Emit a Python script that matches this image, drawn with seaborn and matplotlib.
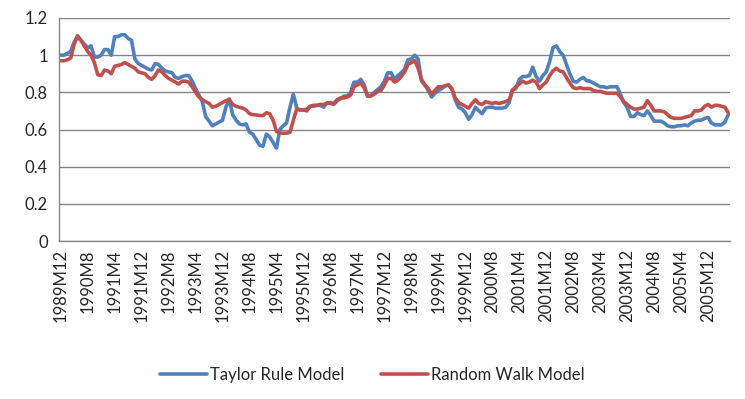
# Grafico de los modelos Taylor Rule vs Random Walk
import matplotlib.pyplot as plt
import seaborn as sns
import pandas as pd

# Meses desde 1989M12 (199 observaciones)
meses = []
anio, mes = 1989, 12
for _ in range(199):
    meses.append(f"{anio}M{mes}")
    mes += 1
    if mes > 12:
        anio, mes = anio + 1, 1

taylor = [
    1.00, 1.00, 1.01, 1.02, 1.07, 1.10, 1.08, 1.06, 1.04, 1.05,
    0.99, 0.99, 1.00, 1.03, 1.03, 1.00, 1.10, 1.10, 1.11, 1.11,
    1.09, 1.08, 0.98, 0.955, 0.945, 0.935, 0.925, 0.92, 0.955, 0.95,
    0.93, 0.915, 0.91, 0.905, 0.88, 0.875, 0.885, 0.89, 0.89, 0.86,
    0.82, 0.785, 0.75, 0.67, 0.645, 0.62, 0.63, 0.64, 0.65, 0.72,
    0.765, 0.68, 0.65, 0.63, 0.625, 0.63, 0.585, 0.575, 0.545, 0.515,
    0.51, 0.575, 0.56, 0.53, 0.50, 0.60, 0.62, 0.635, 0.72, 0.79,
    0.715, 0.705, 0.705, 0.71, 0.725, 0.725, 0.73, 0.73, 0.72, 0.745,
    0.74, 0.735, 0.755, 0.765, 0.78, 0.78, 0.80, 0.855, 0.855, 0.87,
    0.84, 0.78, 0.785, 0.80, 0.815, 0.83, 0.86, 0.905, 0.905, 0.87,
    0.89, 0.905, 0.925, 0.975, 0.98, 1.00, 0.98, 0.86, 0.84, 0.81,
    0.775, 0.795, 0.81, 0.82, 0.835, 0.84, 0.82, 0.76, 0.72, 0.71,
    0.69, 0.655, 0.68, 0.72, 0.70, 0.685, 0.715, 0.72, 0.72, 0.715,
    0.715, 0.715, 0.72, 0.745, 0.815, 0.82, 0.87, 0.885, 0.885, 0.89,
    0.935, 0.885, 0.86, 0.89, 0.91, 0.965, 1.04, 1.05, 1.02, 1.00,
    0.95, 0.90, 0.86, 0.855, 0.87, 0.88, 0.862, 0.86, 0.85, 0.84,
    0.83, 0.83, 0.825, 0.83, 0.83, 0.83, 0.79, 0.745, 0.72, 0.67,
    0.67, 0.69, 0.68, 0.675, 0.70, 0.675, 0.645, 0.645, 0.645, 0.635,
    0.62, 0.615, 0.615, 0.62, 0.62, 0.625, 0.62, 0.635, 0.645, 0.65,
    0.65, 0.66, 0.665, 0.635, 0.625, 0.625, 0.625, 0.64, 0.68,
]

random_walk = [
    0.97, 0.97, 0.975, 0.985, 1.06, 1.105, 1.08, 1.05, 1.02, 1.00,
    0.96, 0.895, 0.89, 0.92, 0.915, 0.90, 0.94, 0.945, 0.95, 0.96,
    0.95, 0.94, 0.93, 0.91, 0.905, 0.90, 0.88, 0.87, 0.89, 0.92,
    0.91, 0.89, 0.875, 0.865, 0.855, 0.845, 0.86, 0.86, 0.855, 0.83,
    0.80, 0.775, 0.76, 0.75, 0.74, 0.72, 0.725, 0.735, 0.745, 0.755,
    0.76, 0.735, 0.725, 0.72, 0.715, 0.705, 0.685, 0.68, 0.678, 0.675,
    0.675, 0.69, 0.685, 0.65, 0.59, 0.58, 0.58, 0.58, 0.585, 0.65,
    0.71, 0.705, 0.705, 0.70, 0.725, 0.73, 0.73, 0.735, 0.735, 0.74,
    0.745, 0.74, 0.76, 0.77, 0.77, 0.775, 0.785, 0.83, 0.84, 0.85,
    0.825, 0.78, 0.78, 0.79, 0.805, 0.81, 0.84, 0.875, 0.875, 0.855,
    0.865, 0.885, 0.91, 0.95, 0.96, 0.97, 0.93, 0.87, 0.84, 0.82,
    0.79, 0.81, 0.83, 0.83, 0.835, 0.84, 0.82, 0.77, 0.745, 0.735,
    0.725, 0.715, 0.74, 0.76, 0.74, 0.735, 0.75, 0.745, 0.74, 0.745,
    0.74, 0.745, 0.75, 0.76, 0.81, 0.83, 0.845, 0.86, 0.85, 0.855,
    0.865, 0.855, 0.82, 0.84, 0.855, 0.89, 0.915, 0.93, 0.915, 0.91,
    0.88, 0.85, 0.825, 0.82, 0.825, 0.82, 0.82, 0.82, 0.81, 0.805,
    0.805, 0.80, 0.795, 0.795, 0.795, 0.795, 0.775, 0.75, 0.735, 0.72,
    0.71, 0.71, 0.715, 0.72, 0.755, 0.73, 0.70, 0.70, 0.70, 0.695,
    0.68, 0.665, 0.66, 0.66, 0.66, 0.665, 0.67, 0.675, 0.70, 0.70,
    0.705, 0.725, 0.735, 0.72, 0.73, 0.73, 0.725, 0.72, 0.69,
]

modelos = ["Taylor Rule Model", "Random Walk Model"]
colores = ["#4F81BD", "#C0504D"]

datos = pd.DataFrame({
    "idx": list(range(len(meses))) * 2,
    "valor": taylor + random_walk,
    "modelo": [modelos[0]] * len(meses) + [modelos[1]] * len(meses),
})

sns.set_style("white")
plt.rcParams["font.family"] = ["Lato", "DejaVu Sans"]

fig = plt.figure(figsize=(7.45, 3.99), dpi=100)
ax = fig.add_axes([59 / 745, 1 - 241 / 399, (730 - 59) / 745, (241 - 18) / 399])

sns.lineplot(data=datos, x="idx", y="valor", hue="modelo", palette=colores,
             linewidth=2.6, ax=ax, legend=False)

ax.set_xlim(-0.5, len(meses) - 0.5)
ax.set_ylim(0, 1.2)
ax.set_yticks([0, 0.2, 0.4, 0.6, 0.8, 1.0, 1.2])
ax.set_yticklabels(["0", "0.2", "0.4", "0.6", "0.8", "1", "1.2"], fontsize=12)
ax.set_xticks(range(0, len(meses), 8))
ax.set_xticklabels(meses[::8], rotation=90, fontsize=12)
ax.set_xticks([k - 0.5 for k in range(len(meses) + 1)], minor=True)
ax.tick_params(axis="x", which="major", length=0, pad=6)
ax.tick_params(axis="x", which="minor", length=4, color="#868686", width=0.8)
ax.tick_params(axis="y", length=4, color="#868686", pad=4)
ax.yaxis.grid(True, color="#868686", linewidth=1)
ax.set_xlabel("")
ax.set_ylabel("")
for lado in ["top", "right"]:
    ax.spines[lado].set_visible(False)
for lado in ["left", "bottom"]:
    ax.spines[lado].set_color("#868686")
    ax.spines[lado].set_linewidth(1)

manijas = [plt.Line2D([], [], color=c, linewidth=2.6) for c in colores]
fig.legend(manijas, modelos, loc="center", bbox_to_anchor=(0.5, 1 - 375 / 399),
           ncol=2, frameon=False, fontsize=12, handlelength=2.8,
           handletextpad=0.2, columnspacing=2.2)

fig.savefig("out.png", dpi=100)
